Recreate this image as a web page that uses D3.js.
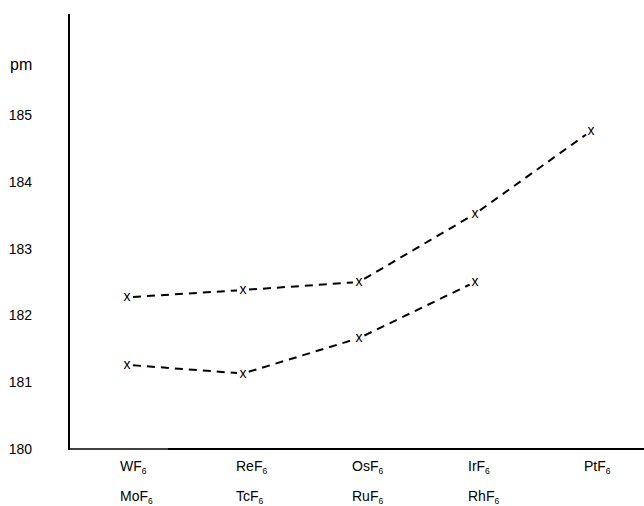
<!DOCTYPE html>
<html>
<head>
<meta charset="utf-8">
<script src="https://cdn.jsdelivr.net/npm/d3@7"></script>
<style>
  body { margin: 0; background: #fff; }
  text { font-family: "Liberation Sans", Arial, sans-serif; fill: #000; }
</style>
</head>
<body>
<div id="canvas"></div>
<script>
// 5d hexafluorides (upper) and 4d hexafluorides (lower), M-F bond length in pm
const upperNames = ["W", "Re", "Os", "Ir", "Pt"];
const upperValues = [182.27, 182.38, 182.5, 183.52, 184.76];
const lowerNames = ["Mo", "Tc", "Ru", "Rh"];
const lowerValues = [181.26, 181.13, 181.66, 182.5];
const yTicks = [180, 181, 182, 183, 184, 185];

const width = 644;
const height = 506;

const svg = d3.select("#canvas").append("svg").attr("width", width).attr("height", height);

const x = d3.scalePoint().domain(d3.range(upperNames.length)).range([127, 591]);
const y = d3.scaleLinear().domain([180, 185]).range([449, 115]);

// axes
svg.append("line").attr("x1", 69).attr("x2", 69).attr("y1", 14).attr("y2", y(180) + 1)
  .attr("stroke", "#000").attr("stroke-width", 2);
svg.append("line").attr("x1", 68).attr("x2", 168).attr("y1", y(180)).attr("y2", y(180))
  .attr("stroke", "#000").attr("stroke-width", 1.3);
svg.append("line").attr("x1", 168).attr("x2", width).attr("y1", y(180)).attr("y2", y(180))
  .attr("stroke", "#000").attr("stroke-width", 2);

svg.append("g").selectAll("text").data(yTicks).join("text")
  .attr("x", 32).attr("y", (d) => y(d) + 5)
  .attr("text-anchor", "end").attr("font-size", 14)
  .text((d) => d);

svg.append("text").attr("x", 10).attr("y", 70).attr("font-size", 16).text("pm");

// category labels with subscript 6
const addLabel = (name, i, baseline) => {
  const t = svg.append("text").attr("x", x(i) - 7).attr("y", baseline).attr("font-size", 14);
  t.append("tspan").text(name + "F");
  t.append("tspan").attr("font-size", 8.5).attr("dy", 3).text("6");
};
upperNames.forEach((n, i) => addLabel(n, i, 471));
lowerNames.forEach((n, i) => addLabel(n, i, 501));

// dashed series lines, trimmed around the x markers
const drawSeries = (values) => {
  const pts = values.map((v, i) => [x(i), y(v)]);
  const segs = d3.pairs(pts).map(([a, b]) => {
    const dx = b[0] - a[0], dy = b[1] - a[1];
    const len = Math.hypot(dx, dy);
    const ux = dx / len, uy = dy / len, gap = 6;
    return [a[0] + ux * gap, a[1] + uy * gap, b[0] - ux * gap, b[1] - uy * gap];
  });
  svg.append("g").selectAll("line").data(segs).join("line")
    .attr("x1", (d) => d[0]).attr("y1", (d) => d[1])
    .attr("x2", (d) => d[2]).attr("y2", (d) => d[3])
    .attr("stroke", "#000").attr("stroke-width", 2)
    .attr("stroke-dasharray", "8,6");
  svg.append("g").selectAll("text").data(pts).join("text")
    .attr("x", (d) => d[0]).attr("y", (d) => d[1] + 4)
    .attr("text-anchor", "middle").attr("font-size", 14)
    .text("x");
};
drawSeries(upperValues);
drawSeries(lowerValues);
</script>
</body>
</html>
